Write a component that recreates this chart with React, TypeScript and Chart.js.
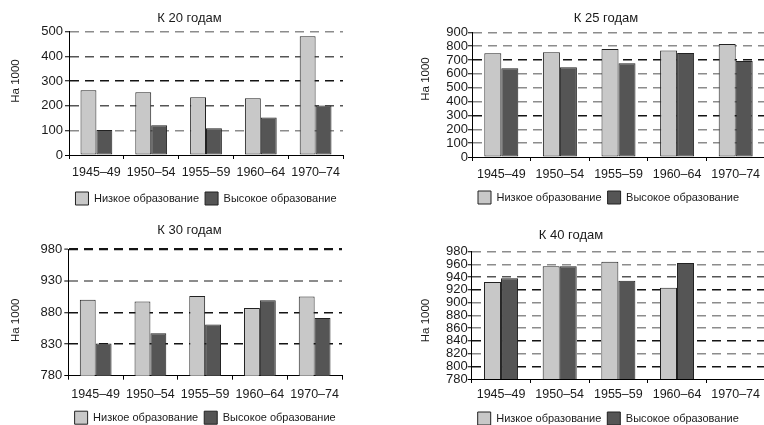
import React, { useEffect, useRef } from 'react';
import { Chart, registerables } from 'chart.js';

Chart.register(...registerables);

// ---------- data ----------
const CATEGORIES = ['1945–49', '1950–54', '1955–59', '1960–64', '1970–74'];
const SERIES_NAMES = ['Низкое образование', 'Высокое образование'];
const Y_TITLE = 'На 1000';
const TITLES = ['К 20 годам', 'К 25 годам', 'К 30 годам', 'К 40 годам'];

const LOW_20 = [263, 254, 234, 230, 482];
const HIGH_20 = [101, 121, 108, 152, 201];
const LOW_25 = [749, 756, 780, 769, 815];
const HIGH_25 = [641, 648, 677, 750, 693];
const LOW_30 = [900, 897, 906, 887, 905];
const HIGH_30 = [831, 847, 861, 899, 871];
const LOW_40 = [932, 957, 964, 923, null];
const HIGH_40 = [938, 957, 934, 962, null];

const TICKS_20 = [0, 100, 200, 300, 400, 500];
const TICKS_25 = [0, 100, 200, 300, 400, 500, 600, 700, 800, 900];
const TICKS_30 = [780, 830, 880, 930, 980];
const TICKS_40 = [780, 800, 820, 840, 860, 880, 900, 920, 940, 960, 980];

// ---------- style ----------
const FONT = "'Liberation Sans', Arial, sans-serif";
const TEXT = '#1a1a1a';
const LOW_COLOR = '#c8c8c8';
const HIGH_COLOR = '#555555';
const BAR_BORDER = '#222222';
const G = '#8c8c8c';
const D = '#555555';
const K = '#141414';
const LEG_PAD = 6;
const LEG_FONT = 11;
const LEG_BOX = 13;
const LEG_ITEM_H = Math.max(LEG_FONT, LEG_BOX);
const X_FONT = 12.5;
const Y_FONT = 13;
const TITLE_FONT = 13;
const YTITLE_FONT = 11.5;
const TICK_LEN = 4;

const PANELS = [
  {
    title: TITLES[0], low: LOW_20, high: HIGH_20, ticks: TICKS_20,
    canvas: { x: 0, y: 0, w: 382, h: 216 },
    area: { l: 69, r: 343, t: 31.7, b: 155 },
    xLabelY: 172.8, legendY: 198.5, legendAlign: 'center', yTickPad: 2,
    titlePos: [189.5, 18.3], yTitlePos: [16, 81],
    gridColors: ['rgba(0,0,0,0)', G, D, K, D, G],
    gridWidths: [1, 1.5, 1.5, 1.5, 1.5, 1.5],
  },
  {
    title: TITLES[1], low: LOW_25, high: HIGH_25, ticks: TICKS_25,
    canvas: { x: 400, y: 0, w: 380, h: 216 },
    area: { l: 472, r: 765, t: 32.3, b: 157 },
    xLabelY: 174.2, legendY: 197.5, legendAlign: 'start', yTickPad: 0,
    titlePos: [606, 18.5], yTitlePos: [426, 79],
    gridColors: ['rgba(0,0,0,0)', G, G, K, G, G, G, K, G, G],
    gridWidths: [1, 1.5, 1.5, 1.5, 1.5, 1.5, 1.5, 1.5, 1.5, 1.5],
  },
  {
    title: TITLES[2], low: LOW_30, high: HIGH_30, ticks: TICKS_30,
    canvas: { x: 0, y: 212, w: 382, h: 225 },
    area: { l: 68.3, r: 342, t: 249, b: 375.7 },
    xLabelY: 394.5, legendY: 417.7, legendAlign: 'center', yTickPad: 2,
    titlePos: [189.5, 230.3], yTitlePos: [16, 320.3],
    gridColors: ['rgba(0,0,0,0)', K, K, G, K],
    gridWidths: [1, 1.5, 1.5, 2, 2.2],
  },
  {
    title: TITLES[3], low: LOW_40, high: HIGH_40, ticks: TICKS_40,
    canvas: { x: 400, y: 212, w: 380, h: 225 },
    area: { l: 471.7, r: 765, t: 251.5, b: 379 },
    xLabelY: 395, legendY: 418.5, legendAlign: 'start', yTickPad: 0,
    titlePos: [571, 235.3], yTitlePos: [426, 320.5],
    gridColors: ['rgba(0,0,0,0)', K, G, K, G, G, G, K, D, G, G],
    gridWidths: [1, 1.5, 1.5, 1.5, 1.5, 1.5, 1.5, 1.5, 1.5, 1.5, 1.5],
  },
];

const panelTextPlugin = {
  id: 'panelText',
  afterDraw(chart: any, _args: any, opts: any) {
    const ctx = chart.ctx;
    ctx.save();
    ctx.fillStyle = TEXT;
    ctx.textAlign = 'center';
    ctx.textBaseline = 'middle';
    ctx.font = `${TITLE_FONT}px ${FONT}`;
    ctx.fillText(opts.title, opts.titleX, opts.titleY);
    ctx.translate(opts.yTitleX, opts.yTitleY);
    ctx.rotate(-Math.PI / 2);
    ctx.font = `${YTITLE_FONT}px ${FONT}`;
    ctx.fillText(opts.yTitle, 0, 0);
    ctx.restore();
  },
};

function PanelChart({ cfg }: { cfg: any }) {
  const ref = useRef<HTMLCanvasElement | null>(null);
  useEffect(() => {
    const cv = cfg.canvas;
    const area = cfg.area;
    const yW = area.l - cv.x;
    const padT = area.t - cv.y;
    const padR = cv.x + cv.w - area.r;
    const legendH = LEG_ITEM_H + LEG_PAD + 10;
    const xH = cfg.legendY - (LEG_PAD + LEG_ITEM_H / 2) - area.b;
    const padB = Math.max(0, cv.y + cv.h - (area.b + xH + legendH));
    const xTickPad = cfg.xLabelY - area.b - TICK_LEN - (X_FONT * 1.2) / 2;
    const ticks = cfg.ticks;

    const chart = new Chart(ref.current as HTMLCanvasElement, {
      type: 'bar',
      data: {
        labels: CATEGORIES,
        datasets: [
          {
            label: SERIES_NAMES[0], data: cfg.low, backgroundColor: LOW_COLOR,
            borderColor: BAR_BORDER, borderWidth: 1, borderSkipped: false,
            categoryPercentage: 0.58, barPercentage: 1,
          },
          {
            label: SERIES_NAMES[1], data: cfg.high, backgroundColor: HIGH_COLOR,
            borderColor: BAR_BORDER, borderWidth: 1, borderSkipped: false,
            categoryPercentage: 0.58, barPercentage: 1,
          },
        ],
      },
      options: {
        responsive: false,
        animation: false,
        devicePixelRatio: 1,
        layout: { padding: { left: 0, top: padT, right: padR, bottom: padB } },
        plugins: {
          title: { display: false },
          tooltip: { enabled: false },
          legend: {
            position: 'bottom',
            fullSize: false,
            align: cfg.legendAlign,
            labels: {
              boxWidth: LEG_BOX,
              boxHeight: LEG_BOX,
              padding: LEG_PAD,
              color: TEXT,
              font: { family: FONT, size: LEG_FONT },
            },
          },
          panelText: {
            title: cfg.title,
            titleX: cfg.titlePos[0] - cv.x,
            titleY: cfg.titlePos[1] - cv.y,
            yTitle: Y_TITLE,
            yTitleX: cfg.yTitlePos[0] - cv.x,
            yTitleY: cfg.yTitlePos[1] - cv.y,
          },
        } as any,
        scales: {
          x: {
            offset: true,
            grid: {
              display: true, drawOnChartArea: false, drawTicks: true,
              tickLength: TICK_LEN, color: '#000', offset: true, lineWidth: 1,
            },
            border: { display: true, color: '#000', width: 1 },
            ticks: {
              color: TEXT, font: { family: FONT, size: X_FONT },
              padding: xTickPad, maxRotation: 0, minRotation: 0, autoSkip: false,
            },
            afterFit: (s: any) => { s.height = xH; },
          },
          y: {
            min: ticks[0],
            max: ticks[ticks.length - 1],
            grid: {
              color: (c: any) => cfg.gridColors[c.index] ?? G,
              lineWidth: (c: any) => cfg.gridWidths[c.index] ?? 1.5,
              tickColor: '#000',
              tickWidth: 1,
              tickLength: TICK_LEN,
              drawTicks: true,
            },
            border: { display: true, color: '#000', width: 1, dash: [9, 6] },
            ticks: {
              stepSize: ticks[1] - ticks[0],
              autoSkip: false,
              padding: cfg.yTickPad,
              color: TEXT,
              font: { family: FONT, size: Y_FONT },
            },
            afterFit: (s: any) => { s.width = yW; },
          },
        },
      } as any,
      plugins: [panelTextPlugin as any],
    });
    return () => chart.destroy();
  }, [cfg]);

  return (
    <canvas
      ref={ref}
      width={cfg.canvas.w}
      height={cfg.canvas.h}
      style={{
        position: 'absolute',
        left: cfg.canvas.x,
        top: cfg.canvas.y,
        width: cfg.canvas.w,
        height: cfg.canvas.h,
      }}
    />
  );
}

export default function App() {
  return (
    <div
      style={{
        position: 'fixed', left: 0, top: 0, width: 764, height: 425,
        overflow: 'hidden', background: '#ffffff',
      }}
    >
      {PANELS.map((p, i) => (
        <PanelChart key={i} cfg={p} />
      ))}
    </div>
  );
}
